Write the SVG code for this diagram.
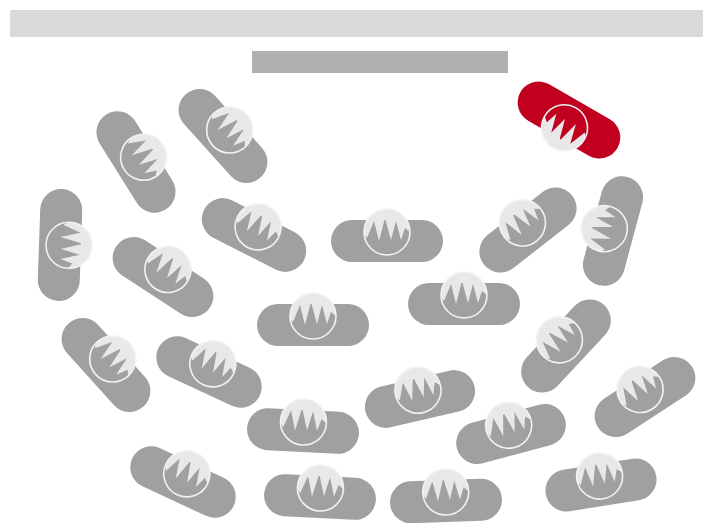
<svg xmlns="http://www.w3.org/2000/svg" xmlns:xlink="http://www.w3.org/1999/xlink" width="703" height="523" viewBox="0 0 703 523">
<defs>
<style>
.g{fill:#a0a0a0}.r{fill:#c1001f}
.ring{fill:none;stroke:#f2f2f2;stroke-width:1.6}
.lite{fill:#e8e8e8}.r2 .lite{fill:#fff}
</style>
<clipPath id="cc"><circle cx="0" cy="-9" r="23"/></clipPath>
<g id="head">
<path class="lite" clip-path="url(#cc)" d="M-24-34H24V-8L18-13 14-1 9-20 4-1-2-23-8 0-13-20-20-3-24-8Z"/>
<circle class="ring" cx="0" cy="-9" r="23"/>
</g>
<rect id="pill" x="-56" y="-21" width="112" height="42" rx="21"/>
</defs>
<rect x="10" y="10" width="693" height="27" fill="#d9d9d9"/>
<rect x="252" y="51" width="256" height="22" fill="#b0b0b0"/>
<g id="connectors"/>
<g id="n1" class="g" transform="translate(136,162) rotate(58)"><use href="#pill"/><use href="#head"/></g>
<g id="n2" class="g" transform="translate(223,136) rotate(48)"><use href="#pill"/><use href="#head"/></g>
<g id="n3" class="r r2" transform="translate(569,120) rotate(210)"><use href="#pill"/><use href="#head"/></g>
<g id="n4" class="g" transform="translate(60,245) rotate(92)"><use href="#pill"/><use href="#head"/></g>
<g id="n5" class="g" transform="translate(254,235) rotate(27)"><use href="#pill"/><use href="#head"/></g>
<g id="n6" class="g" transform="translate(387,241)"><use href="#pill"/><use href="#head"/></g>
<g id="n7" class="g" transform="translate(528,230) rotate(-38)"><use href="#pill"/><use href="#head"/></g>
<g id="n8" class="g" transform="translate(613,231) rotate(-75)"><use href="#pill"/><use href="#head"/></g>
<g id="n9" class="g" transform="translate(163,277) rotate(33)"><use href="#pill"/><use href="#head"/></g>
<g id="n10" class="g" transform="translate(313,325)"><use href="#pill"/><use href="#head"/></g>
<g id="n11" class="g" transform="translate(464,304)"><use href="#pill"/><use href="#head"/></g>
<g id="n12" class="g" transform="translate(566,346) rotate(-47)"><use href="#pill"/><use href="#head"/></g>
<g id="n13" class="g" transform="translate(106,365) rotate(48)"><use href="#pill"/><use href="#head"/></g>
<g id="n14" class="g" transform="translate(209,372) rotate(25)"><use href="#pill"/><use href="#head"/></g>
<g id="n15" class="g" transform="translate(645,397) rotate(-33)"><use href="#pill"/><use href="#head"/></g>
<g id="n16" class="g" transform="translate(420,399) rotate(-13)"><use href="#pill"/><use href="#head"/></g>
<g id="n17" class="g" transform="translate(303,431) rotate(3)"><use href="#pill"/><use href="#head"/></g>
<g id="n18" class="g" transform="translate(511,434) rotate(-15)"><use href="#pill"/><use href="#head"/></g>
<g id="n19" class="g" transform="translate(183,482) rotate(25)"><use href="#pill"/><use href="#head"/></g>
<g id="n20" class="g" transform="translate(320,497) rotate(3)"><use href="#pill"/><use href="#head"/></g>
<g id="n21" class="g" transform="translate(446,501) rotate(-2)"><use href="#pill"/><use href="#head"/></g>
<g id="n22" class="g" transform="translate(601,485) rotate(-9)"><use href="#pill"/><use href="#head"/></g>
</svg>
